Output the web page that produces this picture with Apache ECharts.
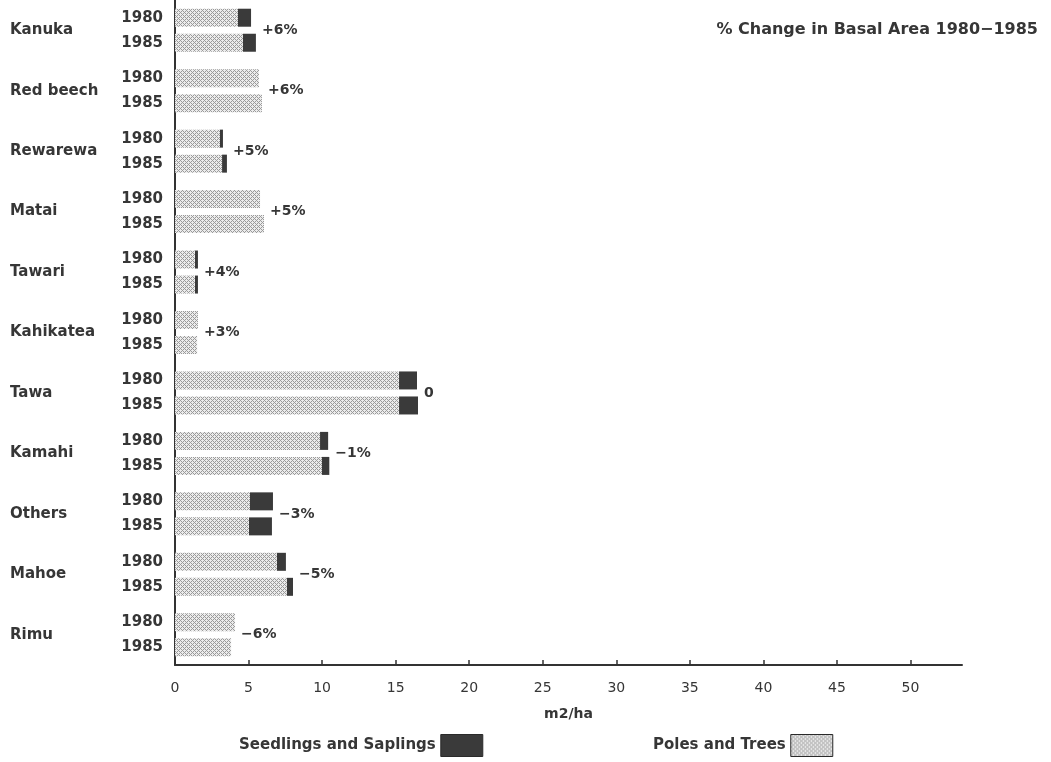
<!DOCTYPE html>
<html>
<head>
<meta charset="utf-8">
<script src="https://cdn.jsdelivr.net/npm/echarts@6/dist/echarts.min.js"></script>
<style>
  html, body { margin: 0; padding: 0; background: #ffffff; }
  #chart { width: 1051px; height: 762px; }
</style>
</head>
<body>
<div id="chart"></div>
<script>
const species = ['Kanuka', 'Red beech', 'Rewarewa', 'Matai', 'Tawari', 'Kahikatea', 'Tawa', 'Kamahi', 'Others', 'Mahoe', 'Rimu'];
const poles1980 = [4.28, 5.71, 3.06, 5.78, 1.36, 1.56, 15.23, 9.86, 5.1, 6.93, 4.08];
const seed1980  = [0.89, 0, 0.2, 0, 0.2, 0, 1.22, 0.55, 1.56, 0.61, 0];
const poles1985 = [4.62, 5.91, 3.2, 6.05, 1.36, 1.5, 15.23, 9.99, 5.03, 7.61, 3.81];
const seed1985  = [0.88, 0, 0.33, 0, 0.2, 0, 1.29, 0.5, 1.56, 0.41, 0];
const pctChange = ['+6%', '+6%', '+5%', '+5%', '+4%', '+3%', '0', '\u22121%', '\u22123%', '\u22125%', '\u22126%'];
const xTicks = [0, 5, 10, 15, 20, 25, 30, 35, 40, 45, 50];
const years = ['1980', '1985'];
const legendNames = ['Seedlings and Saplings', 'Poles and Trees'];

function makePattern() {
  const c = document.createElement('canvas');
  c.width = 4; c.height = 4;
  const ctx = c.getContext('2d');
  ctx.fillStyle = '#ececec';
  ctx.fillRect(0, 0, 4, 4);
  ctx.fillStyle = '#9a9a9a';
  for (let x = 0; x < 4; x++) {
    for (let y = 0; y < 4; y++) {
      if ((x + y) % 4 === 0 || ((x - y) + 8) % 4 === 0) ctx.fillRect(x, y, 1, 1);
    }
  }
  return c;
}
const lightFill = { image: makePattern(), repeat: 'repeat' };
const darkFill = '#3a3a3a';
const FONT = 'DejaVu Sans';
const TXT = '#363636';

const chart = echarts.init(document.getElementById('chart'), null, { renderer: 'canvas' });

const yearLabel = (yr) => ({
  show: true,
  position: [-12, '50%'],
  align: 'right',
  verticalAlign: 'middle',
  formatter: yr,
  fontFamily: FONT,
  fontSize: 15,
  fontWeight: 'bold',
  color: TXT
});

const maxTotals = species.map((s, i) => Math.max(poles1980[i] + seed1980[i], poles1985[i] + seed1985[i]));

const legendBase = (name, left) => ({
  data: [name],
  left: left,
  top: 729,
  align: 'right',
  icon: 'rect',
  itemWidth: 42,
  itemHeight: 22,
  textStyle: { fontFamily: FONT, fontSize: 15, fontWeight: 'bold', color: TXT },
  itemStyle: { borderColor: '#2a2a2a', borderWidth: 1 }
});

chart.setOption({
  animation: false,
  backgroundColor: '#ffffff',
  title: {
    text: '% Change in Basal Area 1980\u22121985',
    right: 8,
    top: 17,
    textStyle: { fontFamily: FONT, fontSize: 16, fontWeight: 'bold', color: TXT }
  },
  legend: [legendBase(legendNames[0], 234), legendBase(legendNames[1], 648)],
  grid: { left: 175, right: 89, top: -2, bottom: 97, containLabel: false },
  xAxis: {
    type: 'value',
    min: 0,
    max: 53.5,
    name: 'm2/ha',
    nameLocation: 'middle',
    nameGap: 42,
    nameTextStyle: { fontFamily: FONT, fontSize: 14, fontWeight: 'bold', color: TXT },
    axisLine: { show: true, lineStyle: { color: '#333', width: 2 } },
    axisTick: { show: true, inside: true, length: 5, lineStyle: { color: '#333', width: 1.5 }, customValues: xTicks },
    axisLabel: { customValues: xTicks, margin: 16, fontFamily: FONT, fontSize: 14, color: TXT },
    splitLine: { show: false }
  },
  yAxis: {
    type: 'category',
    data: species,
    inverse: true,
    axisLine: { show: true, lineStyle: { color: '#333', width: 2 } },
    axisTick: { show: false },
    axisLabel: { align: 'left', margin: 165, fontFamily: FONT, fontSize: 15, fontWeight: 'bold', color: TXT }
  },
  series: [
    { name: legendNames[1], type: 'bar', stack: 'y1980', data: poles1980, barWidth: 18, barGap: '39%',
      itemStyle: { color: lightFill }, label: yearLabel(years[0]) },
    { name: legendNames[1], type: 'bar', stack: 'y1985', data: poles1985, barWidth: 18, barGap: '39%',
      itemStyle: { color: lightFill }, label: yearLabel(years[1]) },
    { name: legendNames[0], type: 'bar', stack: 'y1980', data: seed1980, barWidth: 18,
      itemStyle: { color: darkFill } },
    { name: legendNames[0], type: 'bar', stack: 'y1985', data: seed1985, barWidth: 18,
      itemStyle: { color: darkFill } },
    { name: 'pct', type: 'scatter', symbolSize: 0,
      itemStyle: { opacity: 1 },
      data: species.map((s, i) => [maxTotals[i], s]),
      label: { show: true, position: 'right', distance: 6,
        formatter: (p) => pctChange[p.dataIndex],
        fontFamily: FONT, fontSize: 14, fontWeight: 'bold', color: TXT },
      z: 5 }
  ]
});
</script>
</body>
</html>
